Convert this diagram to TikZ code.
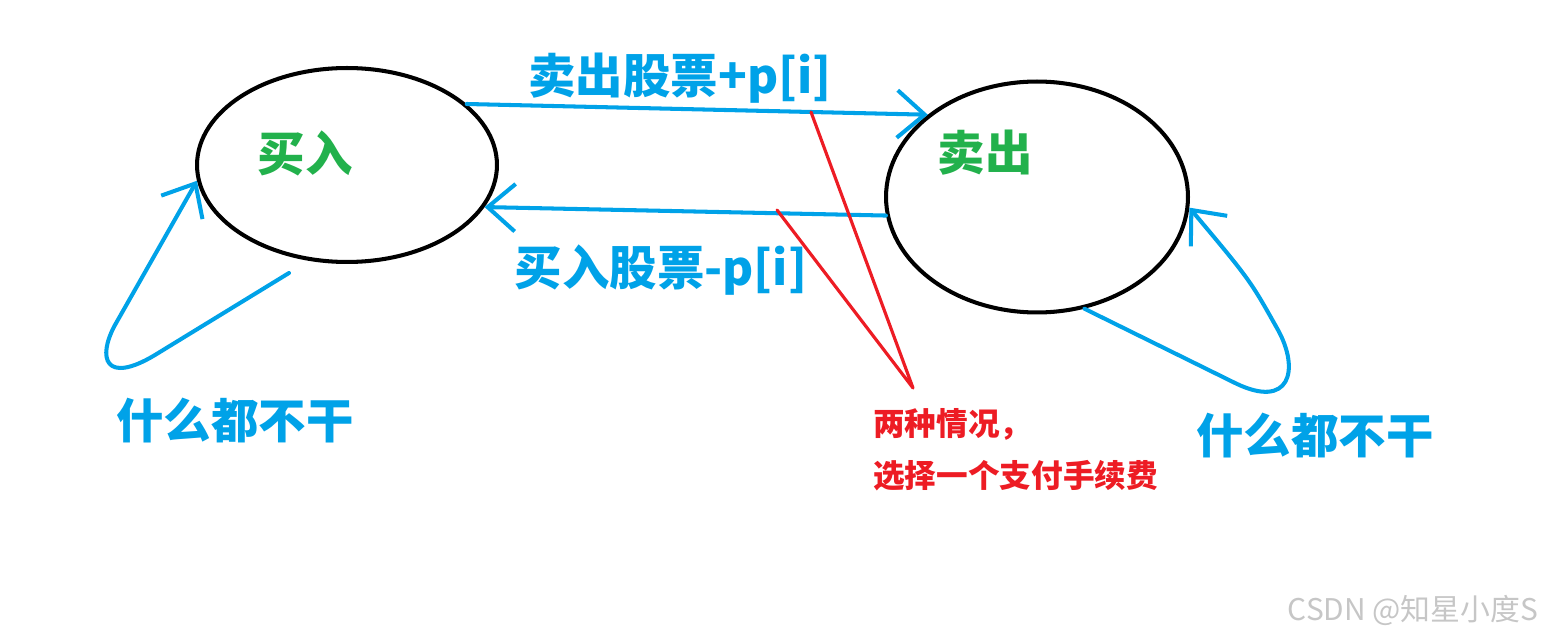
\documentclass[tikz,border=0pt]{standalone}
\usepackage{fontspec}
\setmainfont{Noto Sans CJK SC}
\usetikzlibrary{arrows.meta, shapes.geometric}

\definecolor{paintblue}{HTML}{00A2E8}
\definecolor{paintgreen}{HTML}{22B14C}
\definecolor{paintred}{HTML}{ED1C24}

\tikzstyle{state} = [ellipse, draw=black, line width=2.3pt, inner sep=0pt]
\tikzstyle{statename} = [text=paintgreen, font=\bfseries\fontsize{27pt}{30pt}\selectfont, inner sep=0pt]
\tikzstyle{action} = [text=paintblue, font=\bfseries\fontsize{27pt}{30pt}\selectfont, inner sep=0pt]
\tikzstyle{note} = [text=paintred, font=\bfseries\fontsize{18pt}{29.5pt}\selectfont, align=left, inner sep=0pt]
\tikzstyle{flow} = [paintblue, line width=2.3pt, line cap=round, line join=round, -{Straight Barb[length=0.55cm, width=0.95cm]}]
\tikzstyle{pointer} = [paintred, line width=1.8pt, line cap=round, line join=round]

\begin{document}
\begin{tikzpicture}[x=0.02cm, y=-0.02cm]
\useasboundingbox (0,0) rectangle (1541,638);

% The two states
\node (buy) [state, minimum width=6cm, minimum height=3.88cm] at (347,165) {};
\node (sell) [state, minimum width=6.04cm, minimum height=4.62cm] at (1037,197) {};
\node (buytxt) [statename] at (305,153) {买入};
\node (selltxt) [statename] at (985,153) {卖出};

% Transitions between the states
\draw [flow] (buy.27) -- (sell.143);
\draw [flow] (sell.187) -- (buy.-17);
\node (selllbl) [action] at (680,78) {卖出股票+p[i]};
\node (buylbl) [action] at (661,270) {买入股票-p[i]};

% Self loops
\coordinate (lstart) at (289,273);
\draw [flow] (lstart) -- (155,355) .. controls (105,385) and (97,358) .. (115,325) -- (buy.186);
\node (idle1) [action] at (235,421) {什么都不干};

\coordinate (rbend) at (1278,330);
\draw [flow] (sell.-67) -- (1235,383) .. controls (1290,410) and (1300,370) .. (rbend) .. controls (1250,280) .. (sell.-4);
\node (idle2) [action] at (1315,436) {什么都不干};

% Remark on the fee
\node (remark) [note, anchor=west] at (873,450) {两种情况，\\选择一个支付手续费};
\coordinate (ptop1) at (811,112);
\coordinate (ptop2) at (777,210);
\coordinate (pjoin) at (913,388);
\draw [pointer] (ptop1) -- (pjoin) -- (ptop2);

% Watermark
\node (mark) [text=gray!45, font=\fontsize{17pt}{19pt}\selectfont, inner sep=0pt] at (1413,610) {CSDN @知星小度S};

\end{tikzpicture}
\end{document}
